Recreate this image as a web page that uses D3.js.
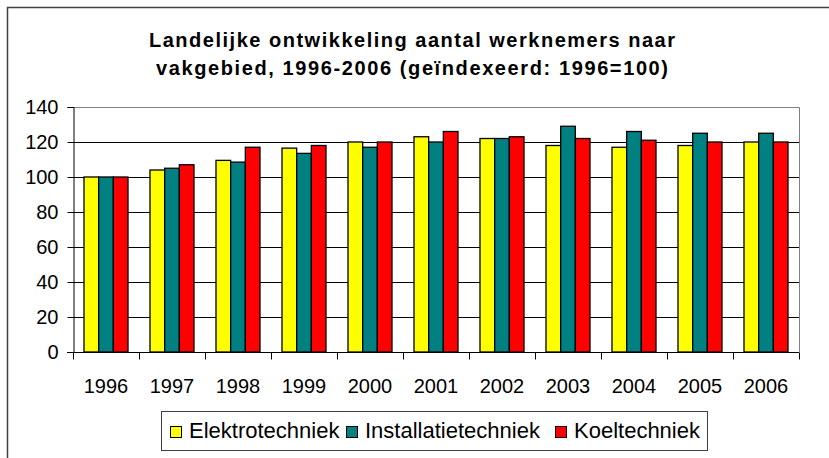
<!DOCTYPE html>
<html>
<head>
<meta charset="utf-8">
<script src="https://cdn.jsdelivr.net/npm/d3@7"></script>
<style>
body { margin: 0; background: #fff; }
text { font-family: "Liberation Sans", Arial, sans-serif; }
</style>
</head>
<body>
<script>
var width = 829;
var height = 458;

var years = ["1996", "1997", "1998", "1999", "2000", "2001", "2002", "2003", "2004", "2005", "2006"];
var series = ["Elektrotechniek", "Installatietechniek", "Koeltechniek"];
var colours = ["#ffff00", "#008080", "#ff0000"];

var elektro = [100, 104, 109.5, 116.5, 120, 123, 122, 118, 117, 118, 120];
var installatie = [100, 105, 108.5, 113.5, 117, 120, 122, 129, 126, 125, 125];
var koel = [100, 107, 117, 118, 120, 126, 123, 122, 121, 120, 120];

var yTicks = [0, 20, 40, 60, 80, 100, 120, 140];

var values = [elektro, installatie, koel];

var svg = d3.select("body").append("svg")
    .attr("width", width)
    .attr("height", height);

// outer frame
svg.append("rect")
    .attr("x", 7.5).attr("y", 7.5)
    .attr("width", 840).attr("height", 470)
    .attr("fill", "none")
    .attr("stroke", "#404040")
    .attr("stroke-width", 1.5);

var plotLeft = 73, plotRight = 799, plotTop = 107, plotBottom = 352;

var x = d3.scaleBand().domain(years).range([plotLeft, plotRight]);
var xs = d3.scaleBand().domain(series).range([11, x.bandwidth() - 11]);
var y = d3.scaleLinear().domain([0, 140]).range([plotBottom, plotTop]);

// title
var title = svg.append("g").attr("font-weight", "bold").attr("font-size", 20).attr("text-anchor", "middle");
title.append("text").attr("x", 412).attr("y", 47)
    .attr("textLength", 526).attr("lengthAdjust", "spacing")
    .text("Landelijke ontwikkeling aantal werknemers naar");
title.append("text").attr("x", 412).attr("y", 75)
    .attr("textLength", 512).attr("lengthAdjust", "spacing")
    .text("vakgebied, 1996-2006 (geïndexeerd: 1996=100)");

// gridlines
svg.append("g")
    .selectAll("line")
    .data(yTicks.filter((d) => d > 0 && d < 140))
    .enter().append("line")
    .attr("x1", plotLeft).attr("x2", plotRight)
    .attr("y1", (d) => Math.round(y(d)) + 0.5)
    .attr("y2", (d) => Math.round(y(d)) + 0.5)
    .attr("stroke", "#000");

// plot border (top + right)
svg.append("path")
    .attr("d", `M${plotLeft},${plotTop + 0.5}H${plotRight + 0.5}V${plotBottom}`)
    .attr("fill", "none")
    .attr("stroke", "#808080");

// bars
svg.append("g")
    .selectAll("g")
    .data(years)
    .enter().append("g")
    .attr("transform", (d) => `translate(${x(d)},0)`)
    .selectAll("rect")
    .data((d, i) => series.map((s, j) => ({ s: s, v: values[j][i], c: colours[j] })))
    .enter().append("rect")
    .attr("x", (d) => xs(d.s))
    .attr("width", xs.bandwidth())
    .attr("y", (d) => y(d.v))
    .attr("height", (d) => plotBottom - y(d.v))
    .attr("fill", (d) => d.c)
    .attr("stroke", "#000")
    .attr("stroke-width", 1.3);

// y axis
var yAxis = svg.append("g")
    .attr("transform", `translate(${plotLeft + 0.5},0)`)
    .call(d3.axisLeft(y).tickValues(yTicks).tickSize(6).tickPadding(9));
yAxis.select(".domain").attr("stroke", "#000");
yAxis.selectAll("text").attr("font-size", 20).attr("font-family", "Liberation Sans, Arial, sans-serif");

// x axis
var xAxis = svg.append("g")
    .attr("transform", `translate(0,${plotBottom + 0.5})`)
    .call(d3.axisBottom(x).tickSize(0).tickPadding(0));
xAxis.selectAll(".tick line").remove();
xAxis.selectAll("text")
    .attr("font-size", 20)
    .attr("font-family", "Liberation Sans, Arial, sans-serif")
    .attr("dy", null)
    .attr("y", 40);
xAxis.select(".domain").attr("d", `M${plotLeft - 6},0H${plotRight}`).attr("stroke", "#000");
xAxis.selectAll(".cat-tick")
    .data(years.concat(["end"]))
    .enter().append("line")
    .attr("x1", (d, i) => plotLeft + i * x.bandwidth() + 0.5)
    .attr("x2", (d, i) => plotLeft + i * x.bandwidth() + 0.5)
    .attr("y1", 0).attr("y2", 7)
    .attr("stroke", "#000");

// legend
var legend = svg.append("g");
legend.append("rect")
    .attr("x", 161.5).attr("y", 411.5)
    .attr("width", 546).attr("height", 39)
    .attr("fill", "#fff")
    .attr("stroke", "#404040");

var legendX = [170, 346, 555];
var items = legend.selectAll(".item")
    .data(series)
    .enter().append("g")
    .attr("transform", (d, i) => `translate(${legendX[i]},0)`);
items.append("rect")
    .attr("x", 0.5).attr("y", 426.5)
    .attr("width", 11).attr("height", 11)
    .attr("fill", (d, i) => colours[i])
    .attr("stroke", "#000");
items.append("text")
    .attr("x", 19).attr("y", 438)
    .attr("font-size", 22)
    .text((d) => d);
</script>
</body>
</html>
